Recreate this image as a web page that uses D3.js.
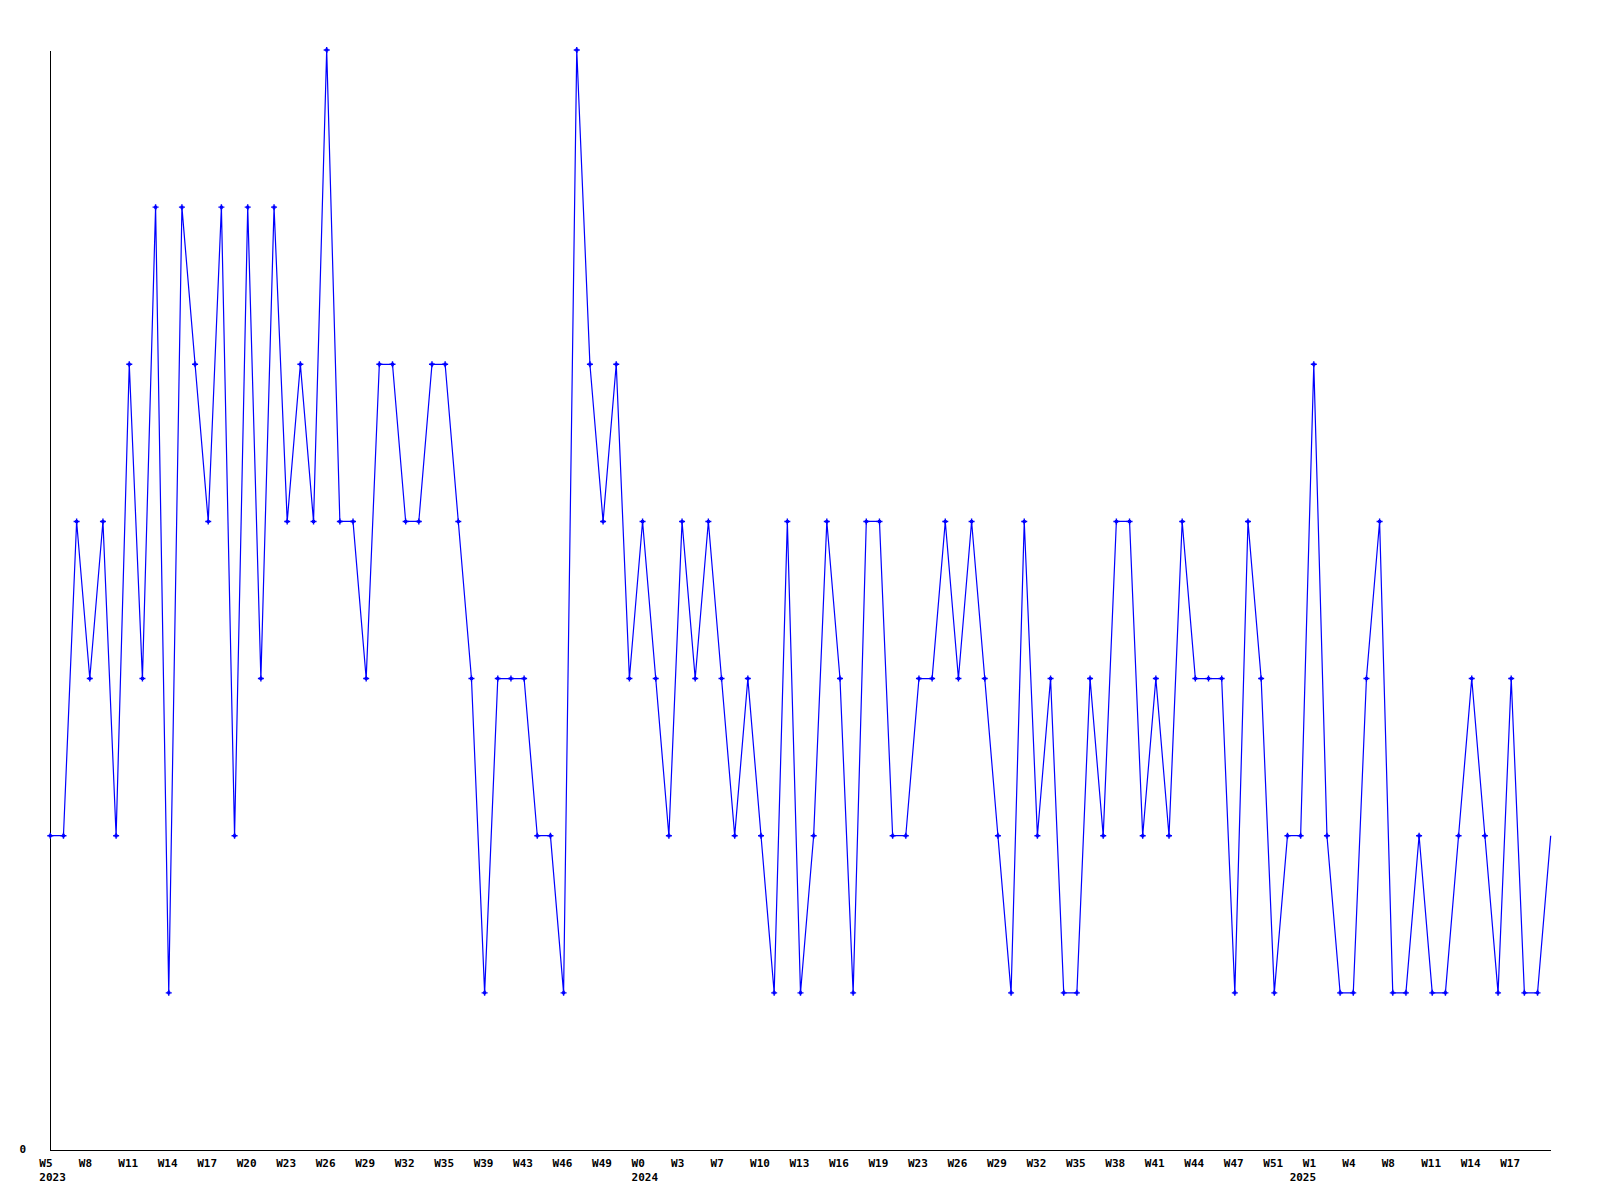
<!DOCTYPE html>
<html>
<head>
<meta charset="utf-8">
<script src="https://cdn.jsdelivr.net/npm/d3@7"></script>
<style>
  html, body { margin: 0; padding: 0; background: #fff; }
  svg { display: block; }
  text { font-family: "DejaVu Sans Mono", "Liberation Mono", monospace; font-weight: bold; font-size: 11px; fill: #000; }
</style>
</head>
<body>
<script>
// Weekly values (one per point)
const values = [
  2,2,4,3,4,2,5,3,6,1,
  6,5,4,6,2,6,3,6,4,5,
  4,7,4,4,3,5,5,4,4,5,
  5,4,3,1,3,3,3,2,2,1,
  7,5,4,5,3,4,3,2,4,3,
  4,3,2,3,2,1,4,1,2,4,
  3,1,4,4,2,2,3,3,4,3,
  4,3,2,1,4,2,3,1,1,3,
  2,4,4,2,3,2,4,3,3,3,
  1,4,3,1,2,2,5,2,1,1,
  3,4,1,1,2,1,1,2,3,2,
  1,3,1,1,2
];
// Week tick labels, one every 3 points
const weekLabels = [
  "W5","W8","W11","W14","W17","W20","W23","W26","W29","W32","W35","W39","W43","W46","W49",
  "W0","W3","W7","W10","W13","W16","W19","W23","W26","W29","W32","W35","W38","W41","W44","W47","W51",
  "W1","W4","W8","W11","W14","W17"
];
const labelStep = 3;
// Year labels and the point index where they appear
const yearNames = ["2023","2024","2025"];
const yearIndex = [0, 45, 95];
const yTicks = [0];

const W = 1600, H = 1200;
const svg = d3.select("body").append("svg").attr("width", W).attr("height", H);
svg.append("rect").attr("width", W).attr("height", H).attr("fill", "#fff");

const x = d3.scaleLinear().domain([0, values.length - 1]).range([50.3, 1550.7]);
const y = d3.scaleLinear().domain([0, 7]).range([1150, 50]);

// Axes
const yAxis = d3.axisLeft(y).tickValues(yTicks).tickSize(0).tickSizeOuter(0).tickPadding(24).tickFormat(d3.format("d"));
const gy = svg.append("g").attr("transform", "translate(50,0)").call(yAxis);
gy.select(".domain").attr("stroke", "#000").attr("stroke-width", 1).attr("shape-rendering", "crispEdges");
gy.selectAll("text").attr("font-family", null).attr("font-size", null).attr("dy", "0.35em").attr("y", -1);

const xAxis = d3.axisBottom(x).tickValues([]).tickSize(0).tickSizeOuter(0);
const gx = svg.append("g").attr("transform", "translate(0,1150)").call(xAxis);
gx.select(".domain").attr("stroke", "#000").attr("stroke-width", 1).attr("shape-rendering", "crispEdges");

// Week labels
svg.append("g").selectAll("text").data(weekLabels).join("text")
  .attr("x", (d, i) => x(i * labelStep) - 11)
  .attr("y", 1167)
  .attr("text-anchor", "start")
  .text(d => d);

// Year labels
svg.append("g").selectAll("text").data(yearNames).join("text")
  .attr("x", (d, i) => x(yearIndex[i]) - 11)
  .attr("y", 1181)
  .attr("text-anchor", "start")
  .text(d => d);

// Line
const line = d3.line().x((d, i) => x(i)).y(d => y(d));
svg.append("path").datum(values)
  .attr("d", line)
  .attr("fill", "none")
  .attr("stroke", "#0000ff")
  .attr("stroke-width", 1.2);

// Markers (small plus shapes)
const plus = "M-3,-0.7h6v1.4h-6z M-0.7,-3h1.4v6h-1.4z M-1.5,-1.5h3v3h-3z";
svg.append("g").selectAll("path").data(values.slice(0, values.length - 1)).join("path")
  .attr("transform", (d, i) => `translate(${x(i)},${y(d)})`)
  .attr("d", plus)
  .attr("fill", "#0000ff");
</script>
</body>
</html>
